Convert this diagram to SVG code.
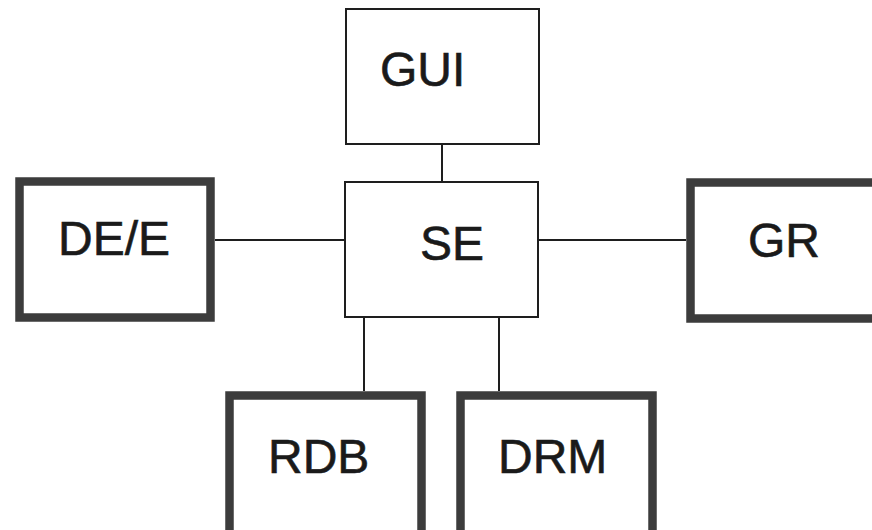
<svg xmlns="http://www.w3.org/2000/svg" width="872" height="530" viewBox="0 0 872 530">
  <style>
    .thin { fill: #fff; stroke: #1e1e1e; stroke-width: 2; }
    .thick { fill: #fff; stroke: #3c3c3c; stroke-width: 8.5; }
    .link { stroke: #1e1e1e; stroke-width: 2; fill: none; }
    .label { font-family: "Liberation Sans", Arial, sans-serif; font-size: 48px; fill: #1a1a1a; stroke: #1a1a1a; stroke-width: 0.6; }
  </style>
  <rect width="872" height="530" fill="#fff"/>

  <!-- connectors from the central SE box -->
  <g id="connectors">
    <line class="link" x1="442" y1="144" x2="442" y2="182"/>
    <line class="link" x1="215" y1="240" x2="345" y2="240"/>
    <line class="link" x1="538" y1="240" x2="686" y2="240"/>
    <line class="link" x1="364" y1="317" x2="364" y2="391"/>
    <line class="link" x1="499" y1="317" x2="499" y2="391"/>
  </g>

  <g id="gui">
    <rect class="thin" x="346" y="9" width="193" height="135"/>
    <text class="label" x="380" y="86">GUI</text>
  </g>

  <g id="se">
    <rect class="thin" x="345" y="182" width="193" height="135"/>
    <text class="label" x="420" y="260">SE</text>
  </g>

  <g id="dee">
    <rect class="thick" x="19.5" y="181.5" width="191" height="136"/>
    <text class="label" x="58" y="255">DE/E</text>
  </g>

  <g id="gr">
    <rect class="thick" x="690.5" y="182.5" width="200" height="136"/>
    <text class="label" x="748" y="257">GR</text>
  </g>

  <g id="rdb">
    <rect class="thick" x="229.5" y="395.5" width="192" height="200"/>
    <text class="label" x="268" y="473">RDB</text>
  </g>

  <g id="drm">
    <rect class="thick" x="460.5" y="395.5" width="192" height="200"/>
    <text class="label" x="498" y="473">DRM</text>
  </g>
</svg>
